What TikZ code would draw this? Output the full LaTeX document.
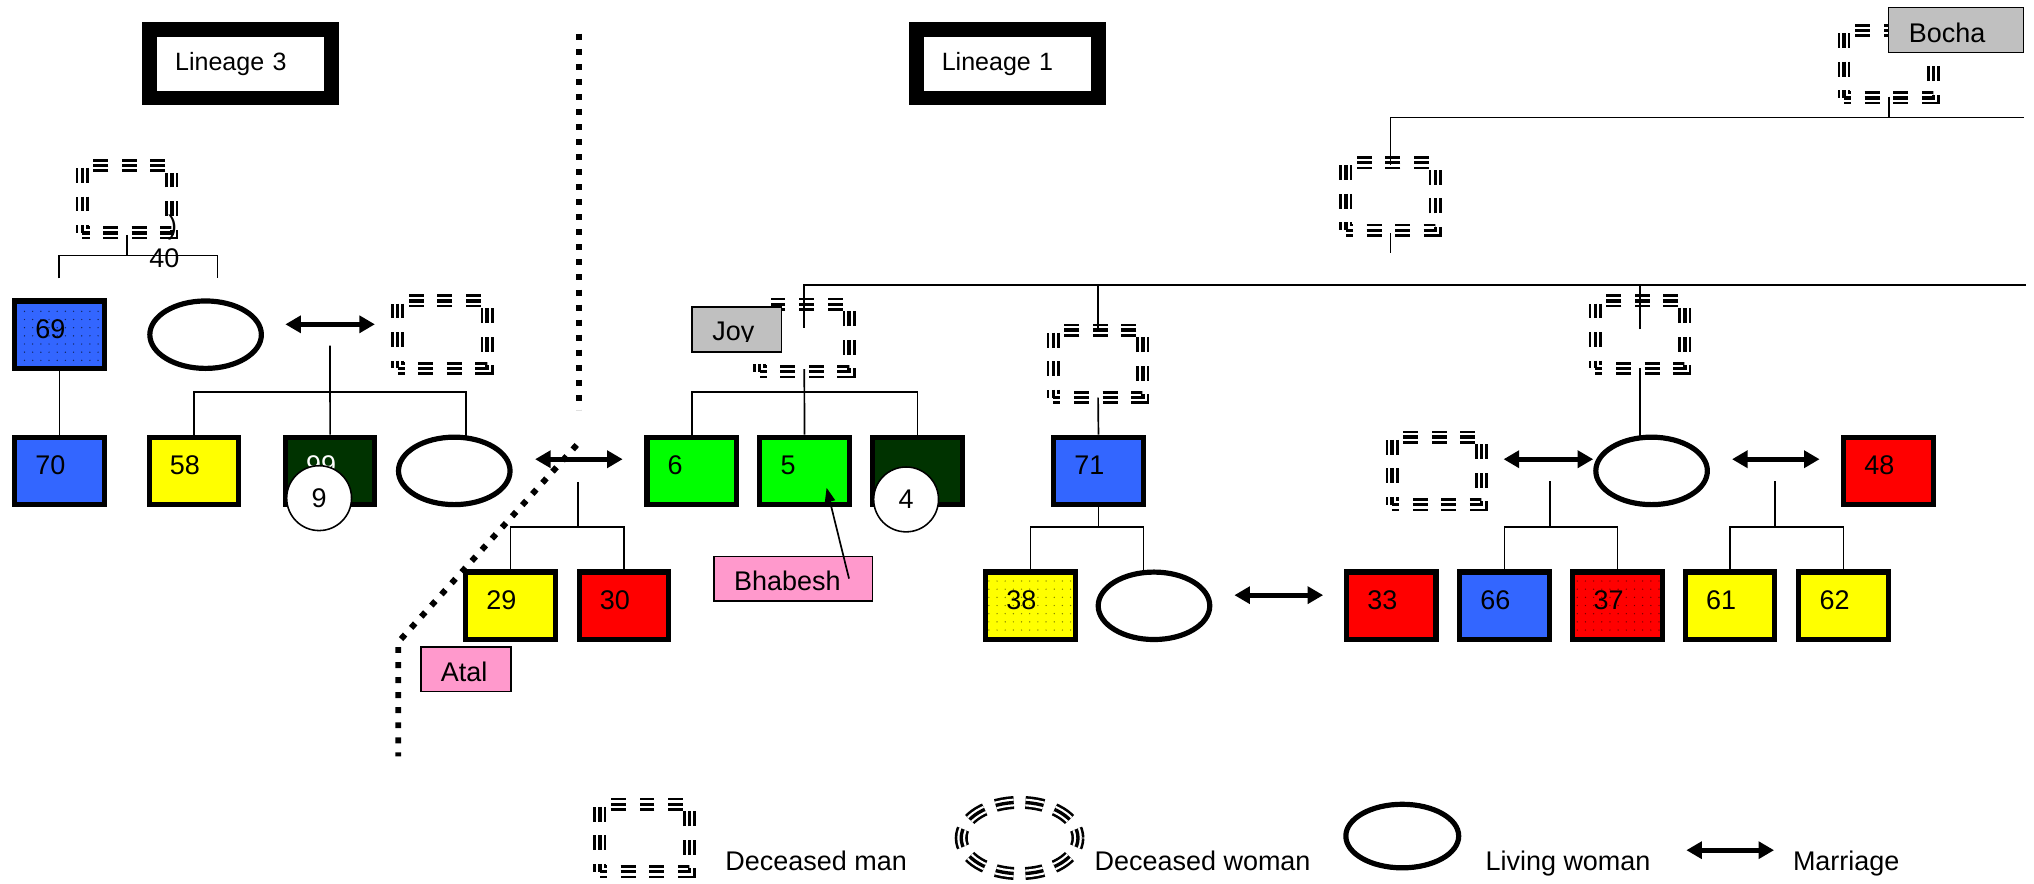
\documentclass[tikz,border=0pt]{standalone}
\usepackage{fontspec}
\setmainfont{Liberation Sans}
\usetikzlibrary{shapes.geometric, arrows.meta, calc, patterns.meta}

\definecolor{kblue}{HTML}{3366FF}
\definecolor{kyellow}{HTML}{FFFF00}
\definecolor{kred}{HTML}{FF0000}
\definecolor{kgreen}{HTML}{00FF00}
\definecolor{kdkgreen}{HTML}{003300}
\definecolor{kpink}{HTML}{FF99CC}
\definecolor{kgray}{HTML}{C0C0C0}

\newcommand\txtsize{\fontsize{20.8pt}{25pt}\selectfont}
\newcommand\linsize{\fontsize{19.3pt}{23pt}\selectfont}

\tikzset{
  kbox/.style={rectangle, draw=black, line width=4pt, minimum width=69pt,
    minimum height=52pt, inner sep=0pt, text width=37pt, align=left,
    text height=15pt, text depth=9pt, font=\txtsize},
  dotfill/.style 2 args={preaction={fill=#1},
    pattern={Dots[distance=6.3pt, radius=0.55pt]}, pattern color=#2},
  dman/.style={rectangle, minimum width=69pt, minimum height=52pt, inner sep=0pt,
    draw=black, line width=10pt, dash pattern=on 11.5pt off 10.5pt, dash phase=6pt,
    postaction={draw=white, line width=6pt, dash pattern=on 11.5pt off 10.5pt, dash phase=6pt},
    postaction={draw=black, line width=2.6pt, dash pattern=on 11.5pt off 10.5pt, dash phase=6pt}},
  dwoman/.style={ellipse, minimum width=90pt, minimum height=55pt, inner sep=0pt,
    draw=black, line width=10pt, dash pattern=on 14pt off 9.1pt, dash phase=7pt,
    postaction={draw=white, line width=6pt, dash pattern=on 14pt off 9.1pt, dash phase=7pt},
    postaction={draw=black, line width=2.6pt, dash pattern=on 14pt off 9.1pt, dash phase=7pt}},
  lwoman/.style={ellipse, draw=black, line width=4pt, fill=white,
    minimum width=86pt, minimum height=52pt, inner sep=0pt},
  lab/.style={rectangle, draw=black, line width=1pt, inner sep=0pt, align=left,
    minimum height=34.5pt, text height=19pt, text depth=0pt, font=\txtsize},
  circ/.style={circle, draw=black, line width=1.2pt, fill=white,
    minimum size=50pt, inner sep=0pt, font=\txtsize},
  lin/.style={rectangle, draw=black, line width=11.5pt, minimum width=140pt,
    minimum height=52.5pt, inner sep=0pt, text width=101pt, align=left,
    text height=15pt, text depth=5pt, font=\linsize},
  kin/.style={draw=black, line width=1.3pt},
  marr/.style={draw=black, line width=4pt,
    {Triangle[length=12pt,width=13pt]}-{Triangle[length=12pt,width=13pt]}},
  ptr/.style={draw=black, line width=1.3pt, -{Triangle[length=11pt,width=8pt]}},
  divider/.style={draw=black, line width=4.6pt, dash pattern=on 4.6pt off 7pt},
  txt/.style={anchor=base west, inner sep=0pt, font=\txtsize}
}

\begin{document}
\begin{tikzpicture}[x=1pt, y=-1pt]
\useasboundingbox (0,0) rectangle (1568,681);
\fill[white] (0,0) rectangle (1568,681);

% lineage divider
\coordinate (dv1) at (446.5,26);
\coordinate (dv2) at (446.5,316);
\coordinate (dv3) at (444.6,343);
\coordinate (dv4) at (307,495);
\coordinate (dv5) at (307,583);
\draw[divider] (dv1) -- (dv2);
\draw[divider] (dv3) -- (dv4) -- (dv5);

% lineage titles
\node[lin] (lin3) at (185.5,49.3) {Lineage 3};
\node[lin] (lin1) at (776.5,49.3) {Lineage 1};

% deceased men
\node[dman] (d3top) at (98,153.5) {};
\node[dman] (m3a) at (341,258) {};
\node[dman] (dJoy) at (620,260.5) {};
\node[dman] (d71p) at (846.5,280.5) {};
\node[dman] (dWp) at (1264.3,258) {};
\node[dman] (dG2) at (1072,151.5) {};
\node[dman] (dBocha) at (1456,49.5) {};
\node[dman] (m1c) at (1107.6,363) {};

% living women
\node[lwoman] (w3a) at (158.5,258) {};
\node[lwoman] (w3b) at (350.2,363) {};
\node[lwoman] (w1) at (1273.2,363) {};
\node[lwoman] (w1b) at (889.6,467) {};

% men, Lineage 3
\node[kbox, dotfill={kblue}{kblue!35!black}] (b69) at (45.8,258) {69};
\node[kbox, fill=kblue] (b70) at (45.8,363) {70};
\node[kbox, fill=kyellow] (b58) at (149.5,363) {58};
\node[kbox, fill=kdkgreen, text=white] (b99) at (254.5,363) {99};
\node[kbox, fill=kyellow] (b29) at (393.5,467) {29};
\node[kbox, fill=kred] (b30) at (481,467) {30};

% men, Lineage 1
\node[kbox, fill=kgreen] (b6) at (533.2,363) {6};
\node[kbox, fill=kgreen] (b5) at (620.2,363) {5};
\node[kbox, fill=kdkgreen] (b4g) at (707.3,363) {};
\node[kbox, fill=kblue] (b71) at (846.8,363) {71};
\node[kbox, fill=kred] (b48) at (1455.7,363) {48};
\node[kbox, dotfill={kyellow}{black!50!kyellow}] (b38) at (794.3,467) {38};
\node[kbox, fill=kred] (b33) at (1072.5,467) {33};
\node[kbox, fill=kblue] (b66) at (1159.7,467) {66};
\node[kbox, dotfill={kred}{kred!45!black}] (b37) at (1247,467) {37};
\node[kbox, fill=kyellow] (b61) at (1333.7,467) {61};
\node[kbox, fill=kyellow] (b62) at (1421.2,467) {62};

% stray marks near the Lineage 3 ancestor
\node[txt] (t40) at (115,206) {40};
\node[txt] (tpar) at (129.5,181) {)};

% descent lines, Lineage 3
\coordinate (l3a) at (45.7,214.6);
\coordinate (l3b) at (167.6,214.6);
\draw[kin] ($(d3top.south)+(0,-3.5)$) -- ++(0,16);
\draw[kin] (l3a) -- ++(0,-17.6) -| (l3b);
\draw[kin] (b69) -- (b70);
\coordinate (m3mid) at (254.4,266.5);
\draw[kin] (m3mid) -- (b99.north);
\draw[kin] (b58.north) -- ++(0,-33) -| ($(w3b.north)+(9,1)$);
\coordinate (m2mid) at (445.8,371.5);
\draw[kin] (m2mid) -- ++(0,34.5);
\draw[kin] (b29.north) -- ++(0,-33) -| (b30.north);

% descent lines, Lineage 1
\coordinate (upR) at (1560,90.5);
\coordinate (topR) at (1562,219.7);
\draw[kin] ($(dG2.north)+(0,6.5)$) |- (upR);
\draw[kin] ($(dBocha.south)+(0,-6)$) -- (dBocha.south |- upR);
\draw[kin] ($(dG2.south)+(0,-3)$) -- ++(0,15.5);
\draw[kin] ($(dJoy.north)+(0,23)$) |- (topR);
\draw[kin] ($(d71p.north)+(0,4)$) -- (d71p.north |- topR);
\draw[kin] ($(dWp.north)+(0,27)$) -- (dWp.north |- topR);
\draw[kin] ($(dJoy.south)+(0,-7)$) -- (b5.north);
\draw[kin] (b6.north) -- ++(0,-32.6) -| (b4g.north);
\draw[kin] ($(d71p.south)+(0,-5)$) -- (b71.north);
\draw[kin] (b71.south) -- ++(0,15);
\draw[kin] (b38.north) -- ++(0,-33) -| ($(w1b.north)+(-8,1)$);
\draw[kin] ($(dWp.south)+(0,-5)$) -- ($(dWp.south |- w1.north)+(0,1)$);
\coordinate (mL) at (1194.7,370.8);
\coordinate (mR) at (1368.5,370.8);
\draw[kin] (mL) -- ++(0,35.2);
\draw[kin] (b66.north) -- ++(0,-33) -| (b37.north);
\draw[kin] (mR) -- ++(0,35.2);
\draw[kin] (b61.north) -- ++(0,-33) -| (b62.north);

% marriages
\draw[marr] ($(w3a.east)+(16.5,-8)$) -- ($(m3a.west)+(-12.5,-8)$);
\draw[marr] ($(w3b.east)+(17.3,-9)$) -- ($(b6.west)+(-16.7,-9)$);
\draw[marr] ($(w1b.east)+(17,-8.2)$) -- ($(b33.west)+(-16,-8.2)$);
\draw[marr] ($(m1c.east)+(12,-9)$) -- ($(w1.west)+(0,-9)$);
\draw[marr] ($(w1.east)+(17,-9)$) -- ($(b48.west)+(-16.5,-9)$);

% numbered circles
\node[circ] (c9) at (246,384) {9};
\node[circ] (c4) at (698.5,385) {4};

% name tags
\node[lab, fill=kgray, minimum width=69pt, text width=38pt] (joy) at (568,254) {};
\begin{scope}
  \clip (joy.north west) rectangle ($(joy.east)+(0,9)$);
  \node[txt] (joyt) at ($(joy.west)+(16,8.7)$) {Joy};
\end{scope}
\node[lab, fill=kgray, minimum width=104pt, text width=73pt] (bocha) at (1508,23) {Bocha};
\node[lab, fill=kpink, minimum width=122pt, text width=91pt] (bhab) at (611.5,446) {Bhabesh};
\node[lab, fill=kpink, minimum width=69.5pt, text width=38.5pt] (atal) at (359.2,516) {Atal};
\draw[ptr] ($(bhab.center)+(43,0)$) -- ($(b5.center)+(17,13)$);

% legend
\node[dman] (legM) at (497,646) {};
\node[txt] (tM) at (559,671) {Deceased man};
\node[dwoman] (legDW) at (786,646) {};
\node[txt] (tDW) at (843.6,671) {Deceased woman};
\node[lwoman, minimum width=87pt, minimum height=49pt] (legLW) at (1081,644.5) {};
\node[txt] (tLW) at (1145,671) {Living woman};
\coordinate (legA) at (1300,655.4);
\coordinate (legB) at (1367.6,655.4);
\draw[marr] (legA) -- (legB);
\node[txt] (tMa) at (1382,671) {Marriage};
\end{tikzpicture}
\end{document}
